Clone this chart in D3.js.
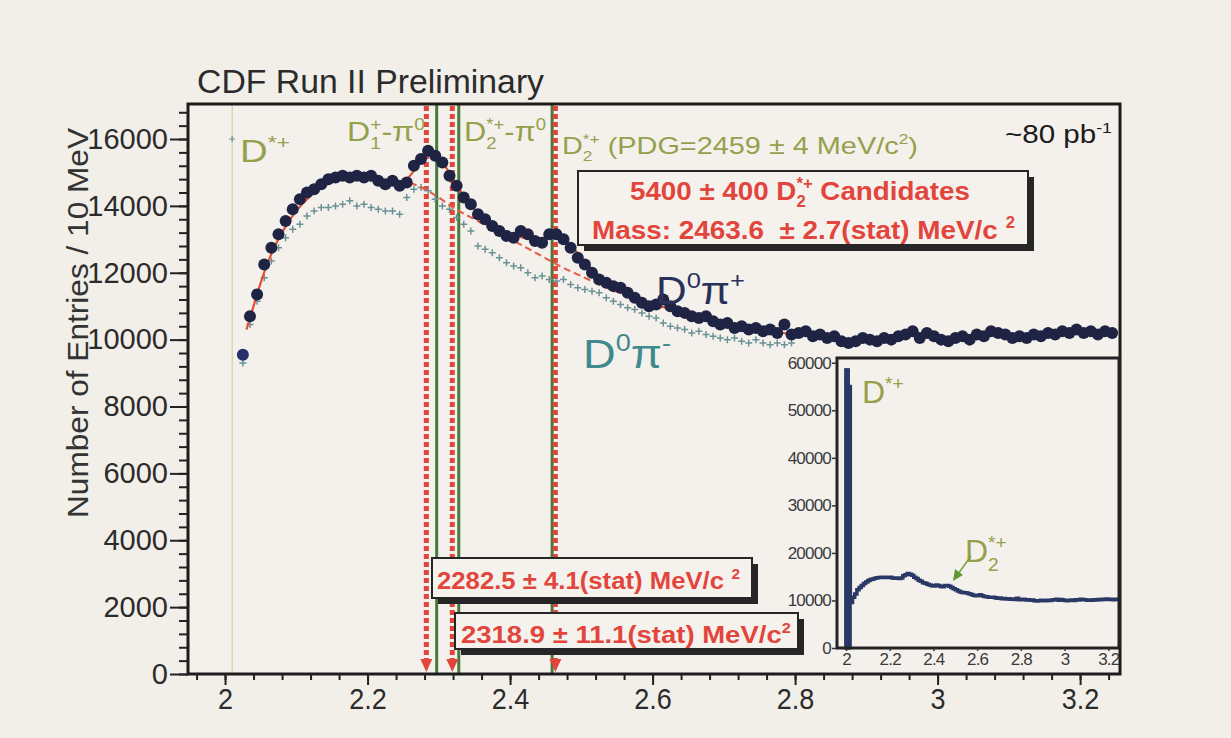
<!DOCTYPE html>
<html>
<head>
<meta charset="utf-8">
<script src="https://cdn.jsdelivr.net/npm/d3@7"></script>
<style>
  body { margin: 0; background: #f2efe9; }
  svg { display: block; }
  text { white-space: pre; }
</style>
</head>
<body>
<div id="chart"></div>
<script>
// D0 pi+ candidates, 10 MeV bins starting at 2.02 GeV/c^2
const binStart = 2.02;
const binWidth = 0.01;
const d0PiPlus = [
  9550, 10700, 11350, 12250, 12750, 13150, 13550, 13900, 14200, 14400,
  14500, 14650, 14800, 14850, 14900, 14850, 14900, 14850, 14900, 14750,
  14650, 14750, 14600, 14700, 15200, 15400, 15650, 15500, 15300, 14900,
  14600, 14250, 14050, 13750, 13600, 13400, 13250, 13100, 13050, 13250,
  13150, 12950, 12900, 13150, 13150, 13000, 12750, 12450, 12250, 12000,
  11800, 11700, 11600, 11550, 11400, 11250, 11100, 11000, 11050, 11200,
  11000, 10850, 10800, 10700, 10650, 10700, 10550, 10450, 10500, 10350,
  10400, 10300, 10350, 10250, 10300, 10200, 10450, 10150, 10200, 10250,
  10100, 10150, 10050, 10100, 9950, 9900, 9950, 10050, 10000, 9950,
  10050, 10000, 10100, 10150, 10250, 10050, 10200, 10100, 10000, 9950,
  10050, 10100, 10000, 10150, 10100, 10250, 10200, 10150, 10050, 10100,
  10050, 10150, 10100, 10200, 10150, 10250, 10200, 10300, 10200, 10250,
  10150, 10250, 10200
];
// wrong-sign D0 pi- , same binning
const d0PiMinus = [
  9300, 10450, 11150, 11850, 12350, 12750, 13050, 13300, 13450, 13700,
  13850, 13950, 13950, 14000, 14050, 14150, 14000, 14050, 13950, 13900,
  13850, 13850, 13750, 14250, 14500, 14550, 14450, 14200, 14000, 13900,
  13650, 13450, 13250, 12800, 12700, 12600, 12450, 12300, 12200, 12150,
  12000, 11850, 11900, 11800, 11750, 11800, 11650, 11550, 11500, 11450,
  11400, 11250, 11150, 11050, 10950, 10900, 10800, 10700, 10650, 10500,
  10400, 10350, 10300, 10200, 10250, 10150, 10100, 10050, 10000, 10050,
  9950, 9900, 10000, 9900, 9850, 9900, 9850, 9900
];
// total fit and background (dashed)
const fitMass = [2.03, 2.04, 2.05, 2.06, 2.07, 2.08, 2.09, 2.10, 2.12, 2.14, 2.16, 2.18, 2.20, 2.22, 2.24, 2.255,
  2.27, 2.28, 2.29, 2.30, 2.31, 2.32, 2.335, 2.35, 2.37, 2.39, 2.41, 2.43, 2.45, 2.46, 2.47, 2.48,
  2.50, 2.52, 2.55, 2.58, 2.61, 2.64, 2.67, 2.70, 2.75, 2.80];
const fitVal = [10300, 11000, 11700, 12300, 12800, 13200, 13550, 13850, 14300, 14600, 14800, 14880, 14870, 14750, 14680, 14800,
  15200, 15500, 15600, 15450, 15150, 14800, 14300, 13900, 13500, 13250, 13100, 13000, 13050, 13120, 13100, 12950,
  12450, 12000, 11550, 11200, 11000, 10850, 10650, 10500, 10300, 10150];
const bgMass = [2.26, 2.28, 2.30, 2.32, 2.35, 2.38, 2.41, 2.44, 2.47, 2.50, 2.53, 2.56, 2.60, 2.64];
const bgVal = [14700, 14500, 14250, 13950, 13600, 13250, 12900, 12550, 12200, 11900, 11600, 11350, 11050, 10800];

// fitted masses (red, dotted) and PDG - pi0 references (green)
const fitPeaks = [2.2825, 2.3189, 2.4636];
const pdgLines = [2.297, 2.328, 2.459];
const dstarMass = 2.010;

// inset: the D*+ spike bins in front of the main range
const insetSpike = [0, 58500, 55000];

const yTicks = [0, 2000, 4000, 6000, 8000, 10000, 12000, 14000, 16000];
const xTicks = [2, 2.2, 2.4, 2.6, 2.8, 3, 3.2];
const insetYTicks = [0, 10000, 20000, 30000, 40000, 50000, 60000];

const FONT = "'Liberation Sans', Arial, Helvetica, sans-serif";
const W = 1231, H = 738;
const olive = '#95a04c', red = '#e2453c', navy = '#1f2444', teal = '#6a9296';
const fmtX = d => String(+d.toFixed(1));

const svg = d3.select('#chart').append('svg')
  .attr('width', W).attr('height', H)
  .style('font-family', FONT);

svg.append('rect').attr('width', W).attr('height', H).attr('fill', '#f2efe9');

// main frame
const box = { l: 188, r: 1120, t: 104, b: 674 };
const x = d3.scaleLinear().domain([1.948, 3.256]).range([box.l, box.r]);
const y = d3.scaleLinear().domain([0, 17047]).range([box.b, box.t]);

svg.append('rect')
  .attr('x', box.l).attr('y', box.t)
  .attr('width', box.r - box.l).attr('height', box.b - box.t)
  .attr('fill', '#f4f1ec');

// rich text helper: parts are strings or {sub, sup}; o.width squeezes to a given width
function rich(parent, px, py, parts, o) {
  const g = parent.append('g')
    .attr('fill', o.color)
    .attr('font-weight', o.weight || 'normal');
  const fs = o.size, ss = fs * (o.scale || 0.6);
  let cx = 0;
  parts.forEach(p => {
    if (typeof p === 'string') {
      const t = g.append('text').attr('x', cx).attr('y', 0).attr('font-size', fs).text(p);
      cx += t.node().getComputedTextLength();
    } else {
      let w = 0;
      if (p.sup != null) {
        const t = g.append('text').attr('x', cx).attr('y', -fs * 0.42).attr('font-size', ss).text(p.sup);
        w = Math.max(w, t.node().getComputedTextLength());
      }
      if (p.sub != null) {
        const t = g.append('text').attr('x', cx).attr('y', fs * 0.28).attr('font-size', ss).text(p.sub);
        w = Math.max(w, t.node().getComputedTextLength());
      }
      cx += w;
    }
  });
  const sx = o.width ? o.width / cx : 1;
  const tw = cx * sx;
  let ox = px;
  if (o.anchor === 'middle') ox = px - tw / 2;
  if (o.anchor === 'end') ox = px - tw;
  g.attr('transform', `translate(${ox},${py}) scale(${sx},1)`);
  return g;
}

// D*+ reference line
svg.append('line')
  .attr('x1', x(dstarMass)).attr('x2', x(dstarMass))
  .attr('y1', box.t).attr('y2', box.b)
  .attr('stroke', '#c9c99a').attr('stroke-width', 1);

// green PDG lines
svg.append('g').selectAll('line').data(pdgLines).enter().append('line')
  .attr('x1', d => x(d)).attr('x2', d => x(d))
  .attr('y1', box.t).attr('y2', box.b)
  .attr('stroke', '#477a3a').attr('stroke-width', 3);

// red dotted fitted mass lines with arrows
const peakG = svg.append('g');
peakG.selectAll('line').data(fitPeaks).enter().append('line')
  .attr('x1', d => x(d)).attr('x2', d => x(d))
  .attr('y1', box.t + 2).attr('y2', box.b - 14)
  .attr('stroke', red).attr('stroke-width', 5)
  .attr('stroke-dasharray', '5,3');
peakG.selectAll('path').data(fitPeaks).enter().append('path')
  .attr('d', d => `M${x(d) - 6},${box.b - 15} L${x(d) + 6},${box.b - 15} L${x(d)},${box.b - 2} Z`)
  .attr('fill', red);

// D0 pi- crosses
const minusPts = d0PiMinus.map((v, i) => [binStart + (i + 0.5) * binWidth, v]);
svg.append('g').selectAll('path').data(minusPts).enter().append('path')
  .attr('d', d => {
    const cx = x(d[0]), cy = y(d[1]);
    return `M${cx - 3.5},${cy} H${cx + 3.5} M${cx},${cy - 3.5} V${cy + 3.5}`;
  })
  .attr('stroke', teal).attr('stroke-width', 1.5);

// fit and background
const line = d3.line().x(d => x(d[0])).y(d => y(d[1])).curve(d3.curveMonotoneX);
svg.append('path')
  .datum(fitMass.map((m, i) => [m, fitVal[i]]))
  .attr('d', line).attr('fill', 'none')
  .attr('stroke', '#e8502f').attr('stroke-width', 2.2);
svg.append('path')
  .datum(bgMass.map((m, i) => [m, bgVal[i]]))
  .attr('d', line).attr('fill', 'none')
  .attr('stroke', '#e55a45').attr('stroke-width', 2)
  .attr('stroke-dasharray', '7,4');

// D0 pi+ points
const plusPts = d0PiPlus.map((v, i) => [binStart + (i + 0.5) * binWidth, v]);
svg.append('g').selectAll('circle').data(plusPts).enter().append('circle')
  .attr('cx', d => x(d[0])).attr('cy', d => y(d[1]))
  .attr('r', 6)
  .attr('fill', (d, i) => i === 0 ? '#26306a' : navy);

// frame outline
svg.append('rect')
  .attr('x', box.l).attr('y', box.t)
  .attr('width', box.r - box.l).attr('height', box.b - box.t)
  .attr('fill', 'none').attr('stroke', '#1c1c1c').attr('stroke-width', 3);

// axes
const yMinor = d3.range(0, 17001, 400);
svg.append('g').attr('transform', `translate(${box.l},0)`)
  .call(d3.axisLeft(y).tickValues(yMinor).tickSize(9).tickFormat(''))
  .call(g => g.select('.domain').remove())
  .call(g => g.selectAll('line').attr('stroke', '#222').attr('stroke-width', 2));
svg.append('g').attr('transform', `translate(${box.l},0)`)
  .call(d3.axisLeft(y).tickValues(yTicks).tickSize(18).tickPadding(2).tickFormat(d3.format('d')))
  .call(g => g.select('.domain').remove())
  .call(g => g.selectAll('line').attr('stroke', '#222').attr('stroke-width', 2))
  .call(g => g.selectAll('text').attr('font-size', 29).attr('fill', '#2b2b2b').attr('font-family', FONT));

const xMinor = d3.range(1.96, 3.25, 0.04);
svg.append('g').attr('transform', `translate(0,${box.b})`)
  .call(d3.axisBottom(x).tickValues(xMinor).tickSize(6).tickFormat(''))
  .call(g => g.select('.domain').remove())
  .call(g => g.selectAll('line').attr('stroke', '#222').attr('stroke-width', 2));
svg.append('g').attr('transform', `translate(0,${box.b})`)
  .call(d3.axisBottom(x).tickValues(xTicks).tickSize(11).tickPadding(3).tickFormat(fmtX))
  .call(g => g.select('.domain').remove())
  .call(g => g.selectAll('line').attr('stroke', '#222').attr('stroke-width', 2))
  .call(g => g.selectAll('text').attr('font-size', 30).attr('fill', '#2b2b2b').attr('font-family', FONT)
    .attr('transform', 'scale(0.9,1)').attr('x', function () { return 0; }));

// axis title and header
svg.append('text')
  .attr('transform', 'translate(88,323) rotate(-90)')
  .attr('text-anchor', 'middle')
  .attr('font-size', 30).attr('fill', '#333')
  .attr('textLength', 390).attr('lengthAdjust', 'spacingAndGlyphs')
  .text('Number of Entries / 10 MeV');

svg.append('text')
  .attr('x', 197).attr('y', 93)
  .attr('font-size', 33).attr('fill', '#2b2b2b')
  .attr('textLength', 347).attr('lengthAdjust', 'spacingAndGlyphs')
  .text('CDF Run II Preliminary');

// labels inside the plot
svg.append('path')
  .attr('d', `M${x(dstarMass) - 3},${y(16000)} h6 M${x(dstarMass)},${y(16000) - 3} v6`)
  .attr('stroke', teal).attr('stroke-width', 1.2);
rich(svg, 240, 162, ['D', { sup: '*+' }], { size: 31, color: olive, width: 50 });
rich(svg, 347, 141, ['D', { sup: '+', sub: '1' }, '-π', { sup: '0' }], { size: 27, color: olive, width: 78 });
rich(svg, 464, 141, ['D', { sup: '*+', sub: '2' }, '-π', { sup: '0' }], { size: 27, color: olive, width: 82 });
rich(svg, 562, 154, ['D', { sup: '*+', sub: '2' }, ' (PDG=2459 ± 4 MeV/c', { sup: '2' }, ')'], { size: 24, color: olive, width: 356 });
rich(svg, 1005, 143, ['~80 pb', { sup: '-1' }], { size: 25, color: '#1a1a1a', width: 107 });

rich(svg, 656, 304, ['D', { sup: '0' }, 'π', { sup: '+' }], { size: 38, color: '#2a3158', scale: 0.6, width: 89 });
rich(svg, 583, 368, ['D', { sup: '0' }, 'π', { sup: '-' }], { size: 40, color: '#3e8a8c', scale: 0.6, width: 88 });

// red result boxes
function resultBox(bx, by, bw, bh) {
  svg.append('rect').attr('x', bx + 6).attr('y', by + 6).attr('width', bw).attr('height', bh).attr('fill', '#262626');
  svg.append('rect').attr('x', bx).attr('y', by).attr('width', bw).attr('height', bh)
    .attr('fill', '#f5f2ed').attr('stroke', '#262626').attr('stroke-width', 2);
}
resultBox(578, 171, 450, 74);
rich(svg, 800, 200, ['5400 ± 400 D', { sup: '*+', sub: '2' }, ' Candidates'], { size: 26, color: red, weight: 'bold', anchor: 'middle', width: 340 });
rich(svg, 592, 239, ['Mass: 2463.6  ± 2.7(stat) MeV/c ', { sup: '2' }], { size: 26, color: red, weight: 'bold', width: 423 });

resultBox(432, 558, 320, 40);
rich(svg, 437, 589, ['2282.5 ± 4.1(stat) MeV/c ', { sup: '2' }], { size: 24, color: red, weight: 'bold', width: 303 });
resultBox(455, 613, 343, 36);
rich(svg, 461, 643, ['2318.9 ± 11.1(stat) MeV/c', { sup: '2' }], { size: 24, color: red, weight: 'bold', width: 330 });

// inset
const ib = { l: 837, r: 1119, t: 358, b: 648 };
const ix = d3.scaleLinear().domain([1.959, 3.249]).range([ib.l, ib.r]);
const iy = d3.scaleLinear().domain([0, 61000]).range([ib.b, ib.t]);
svg.append('rect').attr('x', ib.l).attr('y', ib.t).attr('width', ib.r - ib.l).attr('height', ib.b - ib.t)
  .attr('fill', '#f4f1ec');
const insetVals = insetSpike.concat(d0PiPlus);
const insetPts = insetVals.map((v, i) => [binStart + (i - insetSpike.length + 0.5) * binWidth, v]);
svg.append('g').selectAll('rect').data(insetPts.slice(1, insetSpike.length)).enter().append('rect')
  .attr('x', d => ix(d[0] - binWidth / 2)).attr('width', d => ix(d[0] + binWidth / 2) - ix(d[0] - binWidth / 2))
  .attr('y', d => iy(d[1])).attr('height', d => ib.b - iy(d[1]))
  .attr('fill', '#2a3866').attr('stroke', '#2a3866').attr('stroke-width', 3);
svg.append('path')
  .datum(insetPts)
  .attr('d', d3.line().x(d => ix(d[0])).y(d => iy(d[1])).curve(d3.curveStep))
  .attr('fill', 'none').attr('stroke', '#2a3866').attr('stroke-width', 3.5);
svg.append('rect').attr('x', ib.l).attr('y', ib.t).attr('width', ib.r - ib.l).attr('height', ib.b - ib.t)
  .attr('fill', 'none').attr('stroke', '#222').attr('stroke-width', 3);
svg.append('g').attr('transform', `translate(${ib.l},0)`)
  .call(d3.axisLeft(iy).tickValues(insetYTicks).tickSize(5).tickPadding(1).tickFormat(d3.format('d')))
  .call(g => g.select('.domain').remove())
  .call(g => g.selectAll('line').attr('stroke', '#333').attr('stroke-width', 1.5))
  .call(g => g.selectAll('text').attr('font-size', 17).attr('fill', '#3a3a3a').attr('font-family', FONT)
    .attr('letter-spacing', -0.8));
svg.append('g').attr('transform', `translate(0,${ib.b})`)
  .call(d3.axisBottom(ix).tickValues(xTicks).tickSize(3).tickPadding(2).tickFormat(fmtX))
  .call(g => g.select('.domain').remove())
  .call(g => g.selectAll('line').attr('stroke', '#333').attr('stroke-width', 1.5))
  .call(g => g.selectAll('text').attr('font-size', 17).attr('fill', '#3a3a3a').attr('font-family', FONT)
    .attr('letter-spacing', -0.8));

rich(svg, 862, 403, ['D', { sup: '*+' }], { size: 32, color: olive });
rich(svg, 965, 562, ['D', { sup: '*+', sub: '2' }], { size: 32, color: olive });
svg.append('line').attr('x1', 971).attr('y1', 556).attr('x2', 958).attr('y2', 574)
  .attr('stroke', '#7fa040').attr('stroke-width', 1.5);
svg.append('path').attr('d', 'M953,581 L955,569 L963,575 Z').attr('fill', '#5f9a30');
</script>
</body>
</html>
